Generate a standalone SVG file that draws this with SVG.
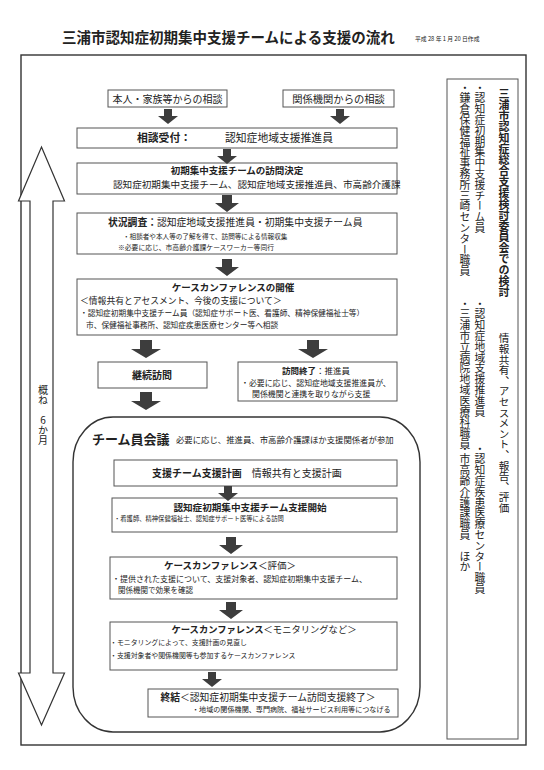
<svg xmlns="http://www.w3.org/2000/svg" width="544" height="770" viewBox="0 0 544 770">
<style>
.t{font-family:"Noto Sans CJK JP","Noto Sans",sans-serif;fill:#222}
.b{font-weight:bold}
.c{text-anchor:middle}
.box{fill:#fff;stroke:#555;stroke-width:1}
.frame{fill:none;stroke:#333;stroke-width:1.4}
.arr{fill:#3d3d3d}
.v{writing-mode:vertical-rl}
.up{writing-mode:vertical-rl;text-orientation:upright}
</style>
<defs>
<path id="arrS" d="M-4,0H4V7H10L0,15L-10,7H-4Z"/>
<path id="arrM" d="M-5,0H5V8H12L0,17L-12,8H-5Z"/>
<path id="arrL" d="M-6,0H6V9H15L0,18L-15,9H-6Z"/>
</defs>
<rect width="544" height="770" fill="#fff"/>

<g id="title">
<text class="t b" x="62" y="43" font-size="14.5">三浦市認知症初期集中支援チームによる支援の流れ</text>
<text class="t" x="415" y="41" font-size="5.8">平成 28 年 1 月 20 日作成</text>
</g>

<rect class="frame" x="21" y="55" width="505" height="690"/>

<g id="period">
<path d="M41.5,147L64.5,201H53V673H64.5L41.5,725L18.5,673H30V201H18.5Z" fill="#fff" stroke="#333" stroke-width="1.2"/>
<text class="t up" x="43" y="385" font-size="10">概ね　6か月</text>
</g>

<g id="n1"><rect class="box" x="108" y="90" width="119" height="17"/>
<text class="t c" x="167.5" y="102.5" font-size="10">本人・家族等からの相談</text></g>

<g id="n2"><rect class="box" x="283" y="90" width="111" height="17"/>
<text class="t c" x="338.5" y="102.5" font-size="10.3">関係機関からの相談</text></g>

<g id="n3"><rect class="box" x="77" y="128" width="320" height="20"/>
<text class="t b" x="137" y="142" font-size="10.8">相談受付：</text>
<text class="t" x="225" y="142" font-size="10.8">認知症地域支援推進員</text></g>

<g id="n4"><rect class="box" x="77" y="163" width="320" height="31"/>
<text class="t b c" x="237" y="174" font-size="9.5">初期集中支援チームの訪問決定</text>
<text class="t" x="113" y="187.5" font-size="9.6">認知症初期集中支援チーム、認知症地域支援推進員、市高齢介護課</text></g>

<g id="n5"><rect class="box" x="77" y="213" width="320" height="41"/>
<text class="t" x="108" y="226" font-size="9.8"><tspan class="b">状況調査：</tspan>認知症地域支援推進員・初期集中支援チーム員</text>
<text class="t" x="123" y="238.5" font-size="6.6">・相談者や本人等の了解を得て、訪問等による情報収集</text>
<text class="t" x="118" y="249.5" font-size="6.8">※必要に応じ、市高齢介護課ケースワーカー等同行</text></g>

<g id="n6"><rect class="box" x="77" y="279" width="320" height="56"/>
<text class="t b c" x="233" y="291" font-size="9.5">ケースカンファレンスの開催</text>
<text class="t" x="80" y="303.5" font-size="8.8">＜情報共有とアセスメント、今後の支援について＞</text>
<text class="t" x="80" y="316" font-size="7.7">・認知症初期集中支援チーム員（認知症サポート医、看護師、精神保健福祉士等）</text>
<text class="t" x="86" y="328" font-size="7.7">市、保健福祉事務所、認知症疾患医療センター等へ相談</text></g>

<g id="n7"><rect class="box" x="98" y="362" width="109" height="26"/>
<text class="t b c" x="152" y="378.5" font-size="10">継続訪問</text></g>

<g id="n8"><rect class="box" x="238" y="362" width="159" height="39"/>
<text class="t c" x="316" y="374" font-size="8.5"><tspan class="b">訪問終了</tspan>：推進員</text>
<text class="t" x="241" y="386" font-size="7.9">・必要に応じ、認知症地域支援推進員が、</text>
<text class="t" x="252" y="397" font-size="7.9">関係機関と連携を取りながら支援</text></g>

<g id="n9"><rect x="73" y="417" width="347" height="315" rx="40" ry="45" fill="none" stroke="#333" stroke-width="1.4"/>
<text class="t b" x="92" y="444" font-size="13">チーム員会議</text>
<text class="t" x="176" y="443" font-size="8.4">必要に応じ、推進員、市高齢介護課ほか支援関係者が参加</text></g>

<g id="n10"><rect class="box" x="114" y="460" width="283" height="26"/>
<text class="t" x="152" y="476.5" font-size="10"><tspan class="b">支援チーム支援計画</tspan>　情報共有と支援計画</text></g>

<g id="n11"><rect class="box" x="112" y="498" width="285" height="34"/>
<text class="t b c" x="250" y="510.5" font-size="9.6">認知症初期集中支援チーム支援開始</text>
<text class="t" x="114" y="520.5" font-size="6.3">・看護師、精神保健福祉士、認知症サポート医等による訪問</text></g>

<g id="n12"><rect class="box" x="110" y="557" width="287" height="42"/>
<text class="t c" x="230" y="568.5" font-size="9.5"><tspan class="b">ケースカンファレンス</tspan>＜評価＞</text>
<text class="t" x="112" y="581.5" font-size="8">・提供された支援について、支援対象者、認知症初期集中支援チーム、</text>
<text class="t" x="118" y="593" font-size="7.5">関係機関で効果を確認</text></g>

<g id="n13"><rect class="box" x="110" y="622" width="287" height="48"/>
<text class="t c" x="264" y="633" font-size="9.3"><tspan class="b">ケースカンファレンス</tspan>＜モニタリングなど＞</text>
<text class="t" x="110" y="645" font-size="6.9">・モニタリングによって、支援計画の見直し</text>
<text class="t" x="110" y="657.5" font-size="6.9">・支援対象者や関係機関等も参加するケースカンファレンス</text></g>

<g id="n14"><rect class="box" x="148" y="689" width="250" height="28"/>
<text class="t c" x="268" y="700.5" font-size="9.8"><tspan class="b">終結</tspan>＜認知症初期集中支援チーム訪問支援終了＞</text>
<text class="t" x="192" y="712" font-size="7.1">・地域の関係機関、専門病院、福祉サービス利用等につなげる</text></g>

<g id="panel"><rect class="box" x="447" y="79" width="71" height="660"/>
<text class="t b v" x="504" y="88" font-size="11">三浦市認知症総合支援検討委員会での検討</text>
<text class="t v" x="504" y="333" font-size="10.6">情報共有、アセスメント、報告、評価</text>
<text class="t v" x="480" y="82" font-size="10.8">・認知症初期集中支援チーム員</text>
<text class="t v" x="480" y="298" font-size="10.8">・認知症地域支援推進員</text>
<text class="t v" x="480" y="443" font-size="10.8">・認知症疾患医療センター職員</text>
<text class="t v" x="465" y="82" font-size="10.8">・鎌倉保健福祉事務所三崎センター職員</text>
<text class="t v" x="465" y="298" font-size="10.8">・三浦市立病院地域医療科職員</text>
<text class="t v" x="465" y="443" font-size="10.8">・市高齢介護課職員　ほか</text></g>

<g id="connectors" class="arr">
<use href="#arrS" x="168" y="109"/>
<use href="#arrS" x="340" y="109"/>
<use href="#arrS" x="227" y="149"/>
<use href="#arrM" x="227" y="195"/>
<use href="#arrM" x="227" y="259"/>
<use href="#arrL" x="146" y="340"/>
<use href="#arrL" x="313" y="340"/>
<use href="#arrL" x="146" y="392"/>
<use href="#arrS" x="228" y="486"/>
<use href="#arrM" x="231" y="537"/>
<use href="#arrM" x="231" y="602"/>
<use href="#arrS" x="212" y="672"/>
</g>
</svg>
